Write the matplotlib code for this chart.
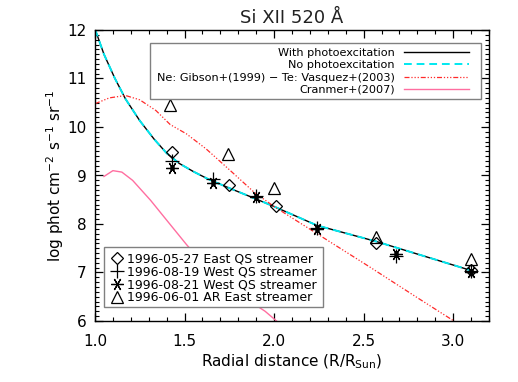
import matplotlib
matplotlib.use("Agg")
import matplotlib.pyplot as plt
from matplotlib.ticker import MultipleLocator, FormatStrFormatter
from matplotlib.patches import Rectangle

# --- data ---
model_x = [1.00, 1.05, 1.11, 1.17, 1.25, 1.33, 1.40, 1.47, 1.55, 1.63, 1.75, 1.89, 2.00, 2.24, 2.57, 3.11]
with_photo_y = [12.02, 11.50, 11.01, 10.58, 10.13, 9.75, 9.46, 9.25, 9.08, 8.93, 8.74, 8.53, 8.36, 7.97, 7.64, 7.03]
no_photo_y = [12.02, 11.50, 11.01, 10.58, 10.13, 9.75, 9.46, 9.25, 9.08, 8.93, 8.74, 8.53, 8.36, 7.97, 7.64, 7.03]

gibson_x = [1.00, 1.08, 1.17, 1.25, 1.34, 1.42, 1.51, 1.62, 1.75, 1.89, 2.00, 2.24, 2.54, 2.80, 3.00, 3.05]
gibson_y = [10.48, 10.60, 10.65, 10.56, 10.34, 10.05, 9.86, 9.55, 9.12, 8.65, 8.36, 7.80, 7.10, 6.48, 6.01, 5.89]

cranmer_x = [1.05, 1.10, 1.15, 1.21, 1.31, 1.40, 1.51, 1.62, 1.73, 1.86, 1.95, 2.02]
cranmer_y = [8.98, 9.10, 9.07, 8.90, 8.49, 8.08, 7.58, 7.11, 6.74, 6.42, 6.20, 5.98]

east_qs_x = [1.43, 1.75, 2.01, 2.57, 3.10]
east_qs_y = [9.48, 8.80, 8.38, 7.60, 7.06]

west19_x = [1.43, 1.66, 1.90, 2.24, 2.68, 3.10]
west19_y = [9.30, 8.92, 8.58, 7.92, 7.33, 7.04]

west21_x = [1.43, 1.66, 1.90, 2.24, 2.68, 3.10]
west21_y = [9.15, 8.85, 8.55, 7.89, 7.38, 7.00]

ar_x = [1.42, 1.74, 2.00, 2.57, 3.10]
ar_y = [10.45, 9.44, 8.75, 7.74, 7.28]

fig = plt.figure(figsize=(5.18, 3.82), dpi=100)
ax = fig.add_axes([95/518, 61/382, 394/518, 291/382])

l1, = ax.plot(model_x, with_photo_y, color="black", lw=1.0, label="With photoexcitation")
l2, = ax.plot(model_x, no_photo_y, color="#00e8f0", lw=1.4, ls=(0, (4, 2.5)), label="No photoexcitation")
l3, = ax.plot(gibson_x, gibson_y, color="#ff2a2a", lw=0.9, ls=(0, (4, 1.5, 1, 1.5, 1, 1.5, 1, 1.5)),
              label="Ne: Gibson+(1999) \u2212 Te: Vasquez+(2003)")
l4, = ax.plot(cranmer_x, cranmer_y, color="#ff6ea0", lw=1.0, label="Cranmer+(2007)")

mk = dict(ls="none", color="black", mfc="none", mew=0.9)
m1, = ax.plot(east_qs_x, east_qs_y, marker="D", ms=6, label="1996-05-27 East QS streamer", **mk)
m2, = ax.plot(west19_x, west19_y, marker="+", ms=10, label="1996-08-19 West QS streamer", **mk)
m3, = ax.plot(west21_x, west21_y, marker=(6, 2, 90), ms=9, label="1996-08-21 West QS streamer", **mk)
ax.plot(west21_x, west21_y, ls="none", marker="o", ms=2.5, color="black")
m4, = ax.plot(ar_x, ar_y, marker="^", ms=8, label="1996-06-01 AR East streamer", **mk)

ax.set_xlim(1.0, 3.2)
ax.set_ylim(6.0, 12.0)
ax.xaxis.set_major_locator(MultipleLocator(0.5))
ax.xaxis.set_minor_locator(MultipleLocator(0.1))
ax.yaxis.set_major_locator(MultipleLocator(1))
ax.yaxis.set_minor_locator(MultipleLocator(0.1))
ax.xaxis.set_major_formatter(FormatStrFormatter("%.1f"))
ax.tick_params(which="both", direction="in", top=True, right=True, colors="black", labelsize=11)
ax.tick_params(which="major", length=5.5, width=0.9)
ax.tick_params(which="minor", length=3, width=0.8)
ax.tick_params(axis="x", which="major", pad=9)
ax.tick_params(axis="y", which="major", pad=6)
for s in ax.spines.values():
    s.set_linewidth(1.0)
    s.set_color("black")

ax.set_title("Si XII 520 \u00c5", fontsize=13, pad=5, color="#222222")
ax.set_xlabel("Radial distance (R/R$_{\\rm Sun}$)", fontsize=11, labelpad=3)
ax.set_ylabel("log phot cm$^{-2}$ s$^{-1}$ sr$^{-1}$", fontsize=11, labelpad=1)

# legend frames (drawn as plain boxes so the padding matches the reference)
for (x0, y0, w, h) in [(0.1396, 0.7629, 0.8401, 0.1924), (0.0228, 0.0481, 0.5559, 0.2062)]:
    ax.add_patch(Rectangle((x0, y0), w, h, transform=ax.transAxes, facecolor="white",
                           edgecolor="#808080", lw=1.0, zorder=4.5))

leg1 = ax.legend(handles=[l1, l2, l3, l4], loc="upper right", bbox_to_anchor=(0.949, 0.938),
                 borderaxespad=0, markerfirst=False, fontsize=8.1, handlelength=5.8,
                 labelspacing=0.2, borderpad=0.0, handletextpad=0.78, frameon=False)
ax.add_artist(leg1)

leg2 = ax.legend(handles=[m1, m2, m3, m4], loc="lower left", bbox_to_anchor=(0.039, 0.058),
                 borderaxespad=0, fontsize=9.0, handlelength=1.0, labelspacing=0.0,
                 borderpad=0.0, handletextpad=0.3, frameon=False)

fig.savefig("out.png", dpi=100)
